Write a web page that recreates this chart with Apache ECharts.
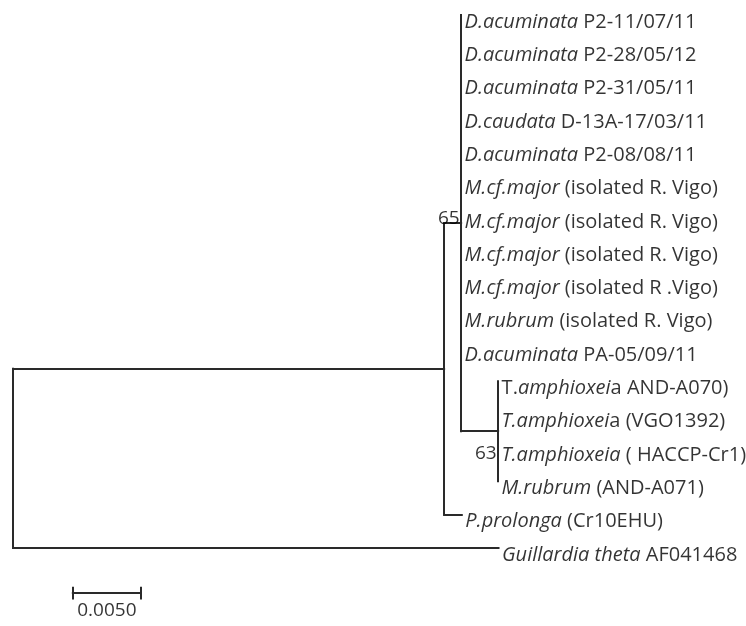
<!DOCTYPE html>
<html>
<head>
<meta charset="utf-8">
<script src="https://cdn.jsdelivr.net/npm/echarts@6/dist/echarts.min.js"></script>
<style>
  html, body { margin: 0; padding: 0; background: #fff; }
  #chart { width: 746px; height: 626px; }
</style>
</head>
<body>
<div id="chart"></div>
<script>
// Leaves, top to bottom (rich-text markup: {i|...} italic, {r|...} upright)
const leafLabels = [
  '{i|D.acuminata} P2-11/07/11',
  '{i|D.acuminata} P2-28/05/12',
  '{i|D.acuminata} P2-31/05/11',
  '{i|D.caudata} D-13A-17/03/11',
  '{i|D.acuminata} P2-08/08/11',
  '{i|M.cf.major} (isolated R. Vigo)',
  '{i|M.cf.major} (isolated R. Vigo)',
  '{i|M.cf.major} (isolated R. Vigo)',
  '{i|M.cf.major} (isolated R .Vigo)',
  '{i|M.rubrum} (isolated R. Vigo)',
  '{i|D.acuminata} PA-05/09/11',
  'T.{i|amphioxei}a AND-A070)',
  '{i|T.amphioxei}a (VGO1392)',
  '{i|T.amphioxeia} ( HACCP-Cr1)',
  '{i|M.rubrum} (AND-A071)',
  '{i|P.prolonga} (Cr10EHU)',
  '{i|Guillardia theta} AF041468'
];
const leafParent = ['B','B','B','B','B','B','B','B','B','B','B','C','C','C','C','A','root'];
const leafBranch = [0,0,0,0,0,0,0,0,0,0,0,0,0,0,0,0.0013,0.0357];

// Internal nodes with parent, branch length and bootstrap support
const innerNodes   = ['A', 'B', 'C'];
const innerParent  = ['root', 'A', 'B'];
const innerBranch  = [0.0317, 0.00125, 0.00272];
const innerSupport = ['', '65', '63'];

// Scale bar
const scaleBarLength = 0.005;
const scaleBarLabel = '0.0050';

// ---- tree layout: x = cumulative branch length, y = leaf order / midpoint of children
const nodes = { root: { parent: null, len: 0, children: [] } };
innerNodes.forEach((id, i) => { nodes[id] = { parent: innerParent[i], len: innerBranch[i], children: [], support: innerSupport[i] }; });
leafLabels.forEach((lab, i) => { nodes['leaf' + i] = { parent: leafParent[i], len: leafBranch[i], children: [], leaf: i }; });
Object.keys(nodes).forEach(id => { const p = nodes[id].parent; if (p) nodes[p].children.push(id); });

function layoutX(id, base) {
  const n = nodes[id];
  n.x = base + n.len;
  n.children.forEach(c => layoutX(c, n.x));
}
function layoutY(id) {
  const n = nodes[id];
  if (n.leaf !== undefined) { n.y = n.leaf; return n.y; }
  const ys = n.children.map(layoutY);
  n.ymin = Math.min(...ys); n.ymax = Math.max(...ys);
  n.y = (n.ymin + n.ymax) / 2;
  return n.y;
}
layoutX('root', 0);
layoutY('root');

const segments = [];
Object.keys(nodes).forEach(id => {
  const n = nodes[id];
  if (n.parent) {
    const p = nodes[n.parent];
    if (n.x > p.x) segments.push({ coords: [[p.x, n.y], [n.x, n.y]] });
  }
  if (n.children.length) segments.push({ coords: [[n.x, n.ymin], [n.x, n.ymax]] });
});

// scale bar geometry in data units
const barX0 = 0.0044, barY = 17.36, tickH = 0.16;
segments.push({ coords: [[barX0, barY], [barX0 + scaleBarLength, barY]] });
segments.push({ coords: [[barX0, barY - tickH], [barX0, barY + tickH]] });
segments.push({ coords: [[barX0 + scaleBarLength, barY - tickH], [barX0 + scaleBarLength, barY + tickH]] });

const FONT = 'Open Sans';
const FS = 20;      // taxon labels
const FS_NUM = 19;  // support values and scale label
const INK = '#000000';

const leafPoints = leafLabels.map((lab, i) => {
  const n = nodes['leaf' + i];
  return { value: [n.x, n.y], label: { formatter: lab } };
});

const supportPoints = innerNodes
  .map(id => nodes[id])
  .filter(n => n.support)
  .map(n => ({
    value: [n.x, n.y],
    label: { formatter: n.support, offset: n.support === '63' ? [0, 22] : [0, -5] }
  }));

const chart = echarts.init(document.getElementById('chart'), null, { renderer: 'canvas' });
chart.setOption({
  animation: false,
  backgroundColor: '#ffffff',
  grid: { left: 13, top: 15, width: 680, height: 599.4 },
  xAxis: { type: 'value', min: 0, max: 0.05, show: false },
  yAxis: { type: 'value', min: 0, max: 18, inverse: true, show: false },
  series: [
    {
      type: 'lines',
      coordinateSystem: 'cartesian2d',
      polyline: false,
      silent: true,
      lineStyle: { color: '#2a2a2a', width: 2, opacity: 1, cap: 'square' },
      data: segments
    },
    {
      type: 'scatter',
      silent: true,
      symbolSize: 1,
      itemStyle: { color: 'rgba(0,0,0,0)' },
      label: {
        show: true, position: 'right', distance: 3, offset: [0, 7],
        fontFamily: FONT, fontSize: FS, color: INK,
        rich: {
          i: { fontStyle: 'italic', fontFamily: FONT, fontSize: FS, color: INK }
        }
      },
      data: leafPoints
    },
    {
      type: 'scatter',
      silent: true,
      symbolSize: 1,
      itemStyle: { color: 'rgba(0,0,0,0)' },
      label: { show: true, position: 'left', distance: 1, fontFamily: FONT, fontSize: FS_NUM, color: INK },
      data: supportPoints
    },
    {
      type: 'scatter',
      silent: true,
      symbolSize: 1,
      itemStyle: { color: 'rgba(0,0,0,0)' },
      label: { show: true, position: 'inside', offset: [0, 18], formatter: scaleBarLabel, fontFamily: FONT, fontSize: FS_NUM, color: INK },
      data: [[barX0 + scaleBarLength / 2, barY]]
    }
  ]
});
</script>
</body>
</html>
